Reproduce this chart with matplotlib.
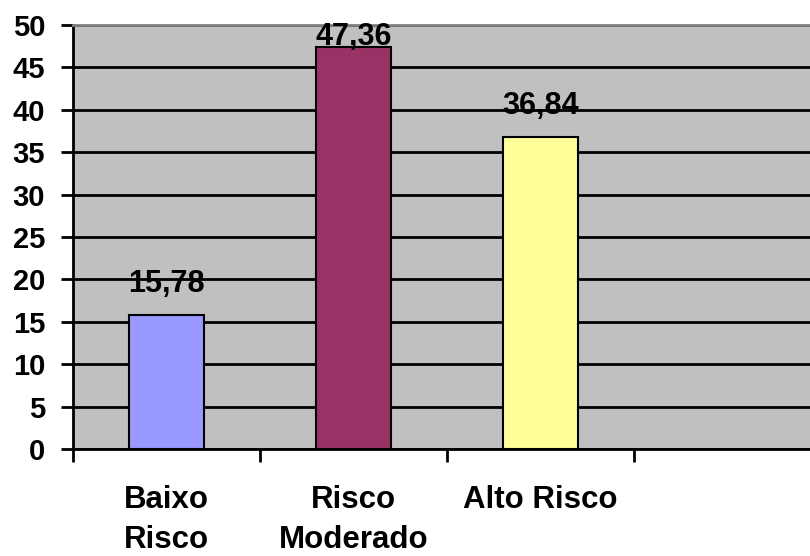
import matplotlib
matplotlib.use("Agg")
import matplotlib.pyplot as plt

categories = ["Baixo\nRisco", "Risco\nModerado", "Alto Risco", ""]
values = [15.78, 47.36, 36.84]
value_labels = ["15,78", "47,36", "36,84"]
bar_colors = ["#9999FF", "#993366", "#FFFF99"]
y_ticks = list(range(0, 51, 5))

plt.rcParams["font.family"] = ["Liberation Sans", "DejaVu Sans"]
plt.rcParams["font.weight"] = "bold"

fig = plt.figure(figsize=(8.10, 5.56), dpi=100)
# plot area runs a little past the right edge of the figure
ax = fig.add_axes([73 / 810, 1 - 449 / 556, (821 - 73) / 810, (449 - 25) / 556])
ax.set_facecolor("#C0C0C0")

x = [i + 0.5 for i in range(len(values))]
ax.bar(x, values, width=0.4, color=bar_colors, edgecolor="black", linewidth=1.5, zorder=3)

ax.set_xlim(0, len(categories))
ax.set_ylim(0, 50)

ax.set_yticks(y_ticks)
ax.set_yticklabels([str(t) for t in y_ticks], fontsize=21, fontweight="bold")
ax.yaxis.grid(True, color="black", linewidth=2, zorder=1)
ax.set_axisbelow(True)

ax.set_xticks(range(len(categories) + 1))
ax.set_xticklabels([])
ax.set_xticks([i + 0.5 for i in range(len(categories))], minor=True)
ax.set_xticklabels(categories, minor=True, fontsize=22.5, fontweight="bold", linespacing=1.45)
ax.tick_params(axis="x", which="minor", length=0, pad=26)
ax.tick_params(axis="x", which="major", length=9, width=2, direction="out", color="black")
ax.tick_params(axis="y", length=9, width=2, direction="out", color="black", pad=11)

ax.spines["right"].set_visible(False)
ax.spines["top"].set_color("#808080")
ax.spines["top"].set_linewidth(2)
ax.spines["left"].set_linewidth(2)
ax.spines["bottom"].set_linewidth(2)

for xi, v, lab in zip(x, values, value_labels):
    y = min(v + 2.7, 47.6)
    ax.text(xi, y, lab, ha="center", va="baseline", fontsize=22, fontweight="bold", zorder=4)

fig.savefig("out.png", dpi=100)
